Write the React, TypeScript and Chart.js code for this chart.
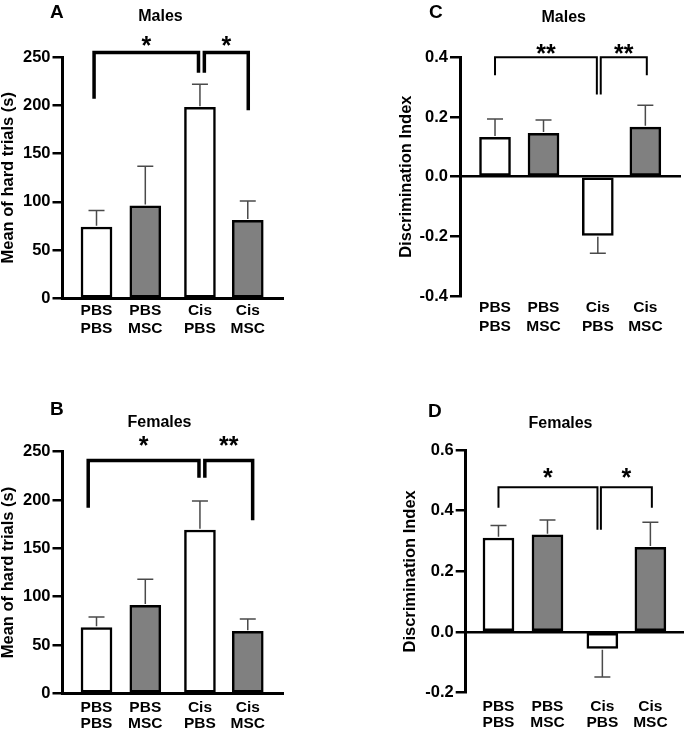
import React, { useEffect, useRef } from "react";
import { Chart, registerables } from "chart.js";

Chart.register(...registerables);

// ---------- data ----------
const groupLabels: string[][] = [
  ["PBS", "PBS"],
  ["PBS", "MSC"],
  ["Cis", "PBS"],
  ["Cis", "MSC"],
];
const groupPositions = [0, 1, 2.12, 3.1];
const barFills = ["#ffffff", "#808080", "#ffffff", "#808080"];

const malesHardMeans = [74, 96, 198, 81];
const malesHardSEM = [17, 41, 24, 20];
const femalesHardMeans = [68, 91, 169, 64];
const femalesHardSEM = [11, 27, 30, 13];
const malesDIMeans = [0.132, 0.145, -0.197, 0.166];
const malesDISEM = [0.061, 0.045, 0.06, 0.073];
const femalesDIMeans = [0.31, 0.32, -0.054, 0.279];
const femalesDISEM = [0.041, 0.049, 0.094, 0.083];

const malesHardSig = ["*", "*"];
const femalesHardSig = ["*", "**"];
const malesDISig = ["**", "**"];
const femalesDISig = ["*", "*"];

// ---------- layout ----------
const W = 685;
const H = 731;
const FONT = "'Liberation Sans', Arial, Helvetica, sans-serif";

type Bracket = { x1: number; x2: number; y1: number; y2: number; top: number; label: string };

type PanelSpec = {
  letter: string;
  title: string;
  yTitle: string;
  means: number[];
  sems: number[];
  yMin: number;
  yMax: number;
  yStep: number;
  decimals: number;
  brackets: Bracket[];
  starY: number;
  area: { l: number; t: number; r: number; b: number };
  axisBoxLeft: number;
  xMin: number;
  xMax: number;
  letterPos: [number, number];
  titlePos: [number, number];
  bracketWidth: number;
  zeroLine: boolean;
  labelLineHeight: number;
  xLabelPad: number;
};

const panels: PanelSpec[] = [
  {
    letter: "A",
    title: "Males",
    yTitle: "Mean of hard trials (s)",
    means: malesHardMeans,
    sems: malesHardSEM,
    yMin: 0,
    yMax: 250,
    yStep: 50,
    decimals: 0,
    brackets: [
      { x1: -0.05, x2: 2.09, y1: 207, y2: 234, top: 255, label: malesHardSig[0] },
      { x1: 2.21, x2: 3.11, y1: 234, y2: 195, top: 255, label: malesHardSig[1] },
    ],
    starY: 267,
    area: { l: 62.5, t: 57.3, r: 283, b: 298.3 },
    axisBoxLeft: 0,
    xMin: -0.697,
    xMax: 3.822,
    letterPos: [50, 18],
    titlePos: [160.5, 20.7],
    bracketWidth: 3.5,
    zeroLine: false,
    labelLineHeight: 1.22,
    xLabelPad: 2.5,
  },
  {
    letter: "B",
    title: "Females",
    yTitle: "Mean of hard trials (s)",
    means: femalesHardMeans,
    sems: femalesHardSEM,
    yMin: 0,
    yMax: 250,
    yStep: 50,
    decimals: 0,
    brackets: [
      { x1: -0.17, x2: 2.1, y1: 192, y2: 223, top: 241, label: femalesHardSig[0] },
      { x1: 2.22, x2: 3.2, y1: 223, y2: 179, top: 241, label: femalesHardSig[1] },
    ],
    starY: 261,
    area: { l: 62.5, t: 451.7, r: 283, b: 693.3 },
    axisBoxLeft: 0,
    xMin: -0.697,
    xMax: 3.822,
    letterPos: [50, 415],
    titlePos: [159.5, 426.5],
    bracketWidth: 3.5,
    zeroLine: false,
    labelLineHeight: 1.03,
    xLabelPad: 6,
  },
  {
    letter: "C",
    title: "Males",
    yTitle: "Discrimination Index",
    means: malesDIMeans,
    sems: malesDISEM,
    yMin: -0.4,
    yMax: 0.4,
    yStep: 0.2,
    decimals: 1,
    brackets: [
      { x1: 0, x2: 2.1, y1: 0.34, y2: 0.275, top: 0.4, label: malesDISig[0] },
      { x1: 2.18, x2: 3.13, y1: 0.275, y2: 0.34, top: 0.4, label: malesDISig[1] },
    ],
    starY: 0.429,
    area: { l: 460, t: 57.3, r: 681, b: 296 },
    axisBoxLeft: 398.5,
    xMin: -0.722,
    xMax: 3.835,
    letterPos: [429, 18],
    titlePos: [563.7, 21.5],
    bracketWidth: 2,
    zeroLine: true,
    labelLineHeight: 1.22,
    xLabelPad: 2.5,
  },
  {
    letter: "D",
    title: "Females",
    yTitle: "Discrimination Index",
    means: femalesDIMeans,
    sems: femalesDISEM,
    yMin: -0.2,
    yMax: 0.6,
    yStep: 0.2,
    decimals: 1,
    brackets: [
      { x1: 0, x2: 2.02, y1: 0.41, y2: 0.337, top: 0.477, label: femalesDISig[0] },
      { x1: 2.09, x2: 3.13, y1: 0.337, y2: 0.41, top: 0.477, label: femalesDISig[1] },
    ],
    starY: 0.523,
    area: { l: 465.7, t: 450, r: 684, b: 692.7 },
    axisBoxLeft: 402,
    xMin: -0.669,
    xMax: 3.786,
    letterPos: [428, 416.5],
    titlePos: [560.5, 428],
    bracketWidth: 2,
    zeroLine: true,
    labelLineHeight: 1.03,
    xLabelPad: 6,
  },
];

function drawCenteredText(ctx: CanvasRenderingContext2D, text: string, x: number, cy: number) {
  ctx.textAlign = "center";
  ctx.textBaseline = "alphabetic";
  const m = ctx.measureText(text);
  const asc = m.actualBoundingBoxAscent;
  const desc = m.actualBoundingBoxDescent;
  ctx.fillText(text, x, cy - (desc - asc) / 2);
}

function makeChart(canvas: HTMLCanvasElement, p: PanelSpec) {
  const xh = Math.min(40, H - p.area.b);
  const annot = {
    id: "annot_" + p.letter,
    afterDatasetsDraw(chart: any) {
      const ctx: CanvasRenderingContext2D = chart.ctx;
      const xs = chart.scales.x;
      const ys = chart.scales.y;
      ctx.save();
      // error bars
      ctx.strokeStyle = "#4a4a4a";
      ctx.lineWidth = 1.5;
      p.means.forEach((m, i) => {
        const x = xs.getPixelForValue(groupPositions[i]);
        const dir = m >= 0 ? 1 : -1;
        const y0 = ys.getPixelForValue(m) - dir * 1.3;
        const y1 = ys.getPixelForValue(m + dir * p.sems[i]);
        ctx.beginPath();
        ctx.moveTo(x, y0);
        ctx.lineTo(x, y1);
        ctx.moveTo(x - 8, y1);
        ctx.lineTo(x + 8, y1);
        ctx.stroke();
      });
      // brackets
      ctx.strokeStyle = "#000";
      ctx.lineWidth = p.bracketWidth;
      ctx.lineJoin = "miter";
      ctx.lineCap = "butt";
      ctx.fillStyle = "#000";
      p.brackets.forEach((b) => {
        const xa = xs.getPixelForValue(b.x1);
        const xb = xs.getPixelForValue(b.x2);
        const ya = ys.getPixelForValue(b.y1);
        const yb = ys.getPixelForValue(b.y2);
        const yt = ys.getPixelForValue(b.top);
        ctx.beginPath();
        ctx.moveTo(xa, ya);
        ctx.lineTo(xa, yt);
        ctx.lineTo(xb, yt);
        ctx.lineTo(xb, yb);
        ctx.stroke();
        ctx.font = `bold 25px ${FONT}`;
        drawCenteredText(ctx, b.label, (xa + xb) / 2, ys.getPixelForValue(p.starY));
      });
      // panel letter and title
      ctx.textBaseline = "alphabetic";
      ctx.textAlign = "left";
      ctx.font = `bold 19px ${FONT}`;
      ctx.fillText(p.letter, p.letterPos[0], p.letterPos[1]);
      ctx.textAlign = "center";
      ctx.font = `bold 16px ${FONT}`;
      ctx.fillText(p.title, p.titlePos[0], p.titlePos[1]);
      ctx.restore();
    },
  };

  return new Chart(canvas, {
    type: "bar",
    data: {
      datasets: [
        {
          data: groupPositions.map((x, i) => ({ x, y: p.means[i] })) as any,
          backgroundColor: barFills,
          borderColor: "#000",
          borderWidth: 2.5,
          borderSkipped: false,
          barThickness: 31,
        },
      ],
    },
    options: {
      responsive: false,
      animation: false,
      layout: {
        padding: {
          left: p.axisBoxLeft,
          top: p.area.t,
          right: W - p.area.r,
          bottom: Math.max(0, H - p.area.b - xh),
        },
      },
      plugins: {
        legend: { display: false },
        tooltip: { enabled: false },
        title: { display: false },
      },
      scales: {
        x: {
          type: "linear",
          min: p.xMin,
          max: p.xMax,
          offset: false,
          afterFit: (s: any) => {
            s.height = xh;
          },
          afterBuildTicks: (s: any) => {
            s.ticks = groupPositions.map((v) => ({ value: v }));
          },
          grid: { display: false, drawTicks: false },
          border: { display: !p.zeroLine, color: "#000", width: 3 },
          ticks: {
            autoSkip: false,
            maxRotation: 0,
            minRotation: 0,
            padding: p.xLabelPad,
            color: "#000",
            font: { family: FONT, size: 15.5, weight: "bold", lineHeight: p.labelLineHeight },
            callback: (_v: any, i: number) => groupLabels[i],
          },
        },
        y: {
          type: "linear",
          min: p.yMin,
          max: p.yMax,
          afterFit: (s: any) => {
            s.width = p.area.l - p.axisBoxLeft;
          },
          ticks: {
            stepSize: p.yStep,
            color: "#000",
            padding: 2,
            font: { family: FONT, size: 16.5, weight: "bold" },
            callback: (v: any) => {
              const n = Number(v);
              if (Math.abs(n) < 1e-9) return (0).toFixed(p.decimals);
              return n.toFixed(p.decimals);
            },
          },
          grid: {
            drawOnChartArea: p.zeroLine,
            color: (c: any) =>
              c.tick && Math.abs(c.tick.value) < 1e-9 ? "#000" : "rgba(0,0,0,0)",
            lineWidth: 2.5,
            tickColor: "#000",
            tickLength: 10,
            tickWidth: 2.5,
          },
          border: { display: true, color: "#000", width: 3 },
          title: {
            display: true,
            text: p.yTitle,
            color: "#000",
            padding: 0,
            font: { family: FONT, size: 16.5, weight: "bold", lineHeight: 1 },
          },
        },
      },
    } as any,
    plugins: [annot],
  });
}

function Panel({ spec }: { spec: PanelSpec }) {
  const ref = useRef<HTMLCanvasElement | null>(null);
  useEffect(() => {
    if (!ref.current) return;
    const chart = makeChart(ref.current, spec);
    return () => chart.destroy();
  }, [spec]);
  return (
    <canvas
      ref={ref}
      width={W}
      height={H}
      style={{ position: "absolute", left: 0, top: 0, width: W, height: H }}
    />
  );
}

export default function App() {
  return (
    <div
      style={{
        position: "fixed",
        left: 0,
        top: 0,
        width: W,
        height: H,
        background: "#ffffff",
        overflow: "hidden",
      }}
    >
      {panels.map((p) => (
        <Panel key={p.letter} spec={p} />
      ))}
    </div>
  );
}
